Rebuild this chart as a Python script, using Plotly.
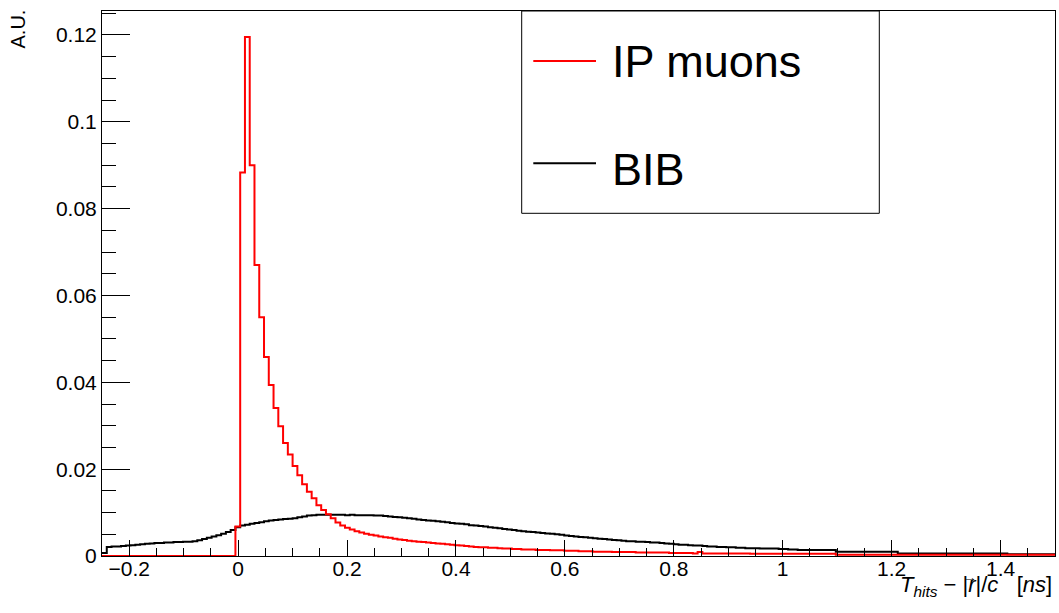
import numpy as np
import plotly.graph_objects as go

# Histogram binning: 200 uniform bins over the time-residual range [ns]
X_MIN, X_MAX, N_BINS = -0.25, 1.5, 200

# Normalised bin contents (A.U.), one value per bin
ip_muons = [
    0, 0, 0, 0, 0, 0, 0, 0, 0, 0,
    0, 0, 0, 0, 0, 0, 0, 0, 0, 0,
    0, 0, 0, 0, 0, 0, 0, 0, 0.0068, 0.0883,
    0.1195, 0.0900, 0.0670, 0.0550, 0.0458, 0.0394, 0.0341, 0.0299, 0.0260, 0.0234,
    0.0207, 0.0186, 0.0165, 0.0148, 0.0133, 0.0117, 0.0106, 0.0096, 0.0087, 0.0077,
    0.0070, 0.0065, 0.0061, 0.0057, 0.0054, 0.0051, 0.0049, 0.0047, 0.0045, 0.0043,
    0.0042, 0.0040, 0.0038, 0.0037, 0.0035, 0.0034, 0.0033, 0.0032, 0.0031, 0.0030,
    0.0029, 0.0028, 0.0027, 0.0026, 0.0025, 0.0024, 0.0023, 0.0022, 0.0021, 0.0020,
    0.0020, 0.0019, 0.0019, 0.0018, 0.0017, 0.0017, 0.0016, 0.0016, 0.0015, 0.0015,
    0.0015, 0.0014, 0.0014, 0.0014, 0.0013, 0.0013, 0.0013, 0.0012, 0.0012, 0.0012,
    0.0011, 0.0011, 0.0011, 0.0010, 0.0010, 0.0010, 0.0010, 0.0009, 0.0009, 0.0009,
    0.0009, 0.0009, 0.0008, 0.0008, 0.0008, 0.0008, 0.0008, 0.0008, 0.0008, 0.0007,
    0.0007, 0.0007, 0.0007, 0.0007, 0.0006, 0.0009, 0.0006, 0.0006, 0.0006, 0.0006,
    0.0006, 0.0006, 0.0006, 0.0006, 0.0006, 0.0006, 0.0005, 0.0005, 0.0005, 0.0005,
    0.0005, 0.0005, 0.0005, 0.0005, 0.0005, 0.0005, 0.0005, 0.0005, 0.0005, 0.0005,
    0.0005, 0.0005, 0.0005, 0.0005, 0.0003, 0.0003, 0.0003, 0.0003, 0.0003, 0.0003,
    0.0003, 0.0003, 0.0003, 0.0003, 0.0003, 0.0003, 0.0003, 0.0003, 0.0003, 0.0003,
    0.0003, 0.0003, 0.0003, 0.0003, 0.0003, 0.0003, 0.0003, 0.0003, 0.0003, 0.0003,
    0.0003, 0.0003, 0.0003, 0.0003, 0.0003, 0.0003, 0.0003, 0.0003, 0.0003, 0.0003,
    0.0003, 0.0003, 0.0003, 0.0003, 0.0003, 0.0003, 0.0003, 0.0003, 0.0003, 0.0003,
]

bib = [
    0.0007, 0.0021, 0.0022, 0.0022, 0.0023, 0.0024, 0.0025, 0.0026, 0.0027, 0.0028,
    0.0029, 0.0030, 0.0030, 0.0031, 0.0031, 0.0032, 0.0032, 0.0033, 0.0033, 0.0034,
    0.0036, 0.0039, 0.0042, 0.0045, 0.0048, 0.0051, 0.0055, 0.0060, 0.0066, 0.0070,
    0.0072, 0.0074, 0.0076, 0.0078, 0.0080, 0.0082, 0.0083, 0.0084, 0.0085, 0.0086,
    0.0087, 0.0089, 0.0091, 0.0093, 0.0094, 0.0095, 0.0095, 0.0095, 0.0095, 0.0095,
    0.0095, 0.0094, 0.0095, 0.0094, 0.0094, 0.0094, 0.0094, 0.0093, 0.0093, 0.0092,
    0.0091, 0.0090, 0.0089, 0.0088, 0.0087, 0.0086, 0.0084, 0.0083, 0.0082, 0.0081,
    0.0080, 0.0079, 0.0078, 0.0076, 0.0075, 0.0074, 0.0073, 0.0071, 0.0070, 0.0069,
    0.0068, 0.0066, 0.0065, 0.0064, 0.0062, 0.0061, 0.0060, 0.0058, 0.0057, 0.0056,
    0.0055, 0.0054, 0.0053, 0.0052, 0.0051, 0.0050, 0.0049, 0.0047, 0.0046, 0.0045,
    0.0044, 0.0043, 0.0042, 0.0041, 0.0040, 0.0039, 0.0038, 0.0037, 0.0036, 0.0035,
    0.0034, 0.0034, 0.0033, 0.0033, 0.0032, 0.0031, 0.0031, 0.0030, 0.0029, 0.0028,
    0.0027, 0.0026, 0.0026, 0.0025, 0.0024, 0.0024, 0.0023, 0.0022, 0.0022, 0.0021,
    0.0021, 0.0020, 0.0020, 0.0019, 0.0019, 0.0018, 0.0018, 0.0018, 0.0017, 0.0017,
    0.0017, 0.0017, 0.0016, 0.0016, 0.0015, 0.0015, 0.0014, 0.0014, 0.0014, 0.0014,
    0.0014, 0.0014, 0.0014, 0.0014, 0.0010, 0.0010, 0.0010, 0.0010, 0.0010, 0.0010,
    0.0010, 0.0010, 0.0010, 0.0010, 0.0010, 0.0010, 0.0010, 0.0006, 0.0006, 0.0006,
    0.0006, 0.0006, 0.0006, 0.0006, 0.0006, 0.0006, 0.0006, 0.0006, 0.0006, 0.0006,
    0.0006, 0.0006, 0.0006, 0.0006, 0.0006, 0.0006, 0.0006, 0.0006, 0.0006, 0.0006,
    0.0004, 0.0004, 0.0004, 0.0004, 0.0004, 0.0004, 0.0004, 0.0004, 0.0004, 0.0004,
]

series_names = ["IP muons", "BIB"]
series_colors = ["#ff0000", "#000000"]
y_max = 0.1255

edges = np.linspace(X_MIN, X_MAX, N_BINS + 1)


def step_trace(values, color, name):
    # Step outline: each bin's content held from its low edge to its high edge
    y = list(values) + [values[-1]]
    return go.Scatter(x=edges, y=y, mode="lines", line_shape="hv",
                      line=dict(color=color, width=2), name=name,
                      showlegend=False, hoverinfo="skip")


FONT = "Liberation Sans, Arial, Helvetica, sans-serif"

fig = go.Figure()
fig.add_trace(step_trace(bib, series_colors[1], series_names[1]))
fig.add_trace(step_trace(ip_muons, series_colors[0], series_names[0]))

W, H = 1059, 613
L, R, T, B = 102, 4, 11, 57
pw, ph = W - L - R, H - T - B


def px(xp):
    return (xp - L) / pw


def py(yp):
    return (H - B - yp) / ph


fig.update_layout(
    width=W, height=H,
    margin=dict(l=L, r=R, t=T, b=B, pad=0),
    paper_bgcolor="white", plot_bgcolor="white",
    font=dict(family=FONT, size=21, color="black"),
    showlegend=False,
    xaxis=dict(range=[X_MIN, X_MAX], dtick=0.2, tick0=0, ticks="inside",
               ticklen=16, tickwidth=1, tickcolor="black", ticklabelstandoff=-6,
               showline=True, linecolor="black", linewidth=1, mirror=True,
               showgrid=False, zeroline=False,
               minor=dict(ticks="inside", ticklen=8, dtick=0.05, tick0=0,
                          tickcolor="black", tickwidth=1, showgrid=False)),
    yaxis=dict(range=[0, y_max], dtick=0.02, tick0=0, ticks="inside",
               ticklen=28, tickwidth=1, tickcolor="black",
               showline=True, linecolor="black", linewidth=1, mirror=True,
               showgrid=False, zeroline=False,
               minor=dict(ticks="inside", ticklen=14, dtick=0.005, tick0=0,
                          tickcolor="black", tickwidth=1, showgrid=False)),
)

# Legend box with line samples and labels
legend_y = [61, 163.3]
label_y = [61.7, 170]
shapes = [dict(type="rect", xref="paper", yref="paper",
               x0=px(521.7), x1=px(879.3), y0=py(213.3), y1=py(11),
               line=dict(color="black", width=1), fillcolor="white", layer="above")]
for name, color, ly, ty in zip(series_names, series_colors, legend_y, label_y):
    shapes.append(dict(type="line", xref="paper", yref="paper",
                       x0=px(533.3), x1=px(596), y0=py(ly), y1=py(ly),
                       line=dict(color=color, width=2), layer="above"))
    fig.add_annotation(text=name, xref="paper", yref="paper",
                       x=px(610), y=py(ty), xanchor="left", yanchor="middle",
                       showarrow=False, font=dict(family=FONT, size=45, color="black"))
fig.update_layout(shapes=shapes)

# Axis titles
fig.add_annotation(text="A.U.", xref="paper", yref="paper",
                   x=px(18), y=py(8), xanchor="center", yanchor="top",
                   textangle=-90, showarrow=False,
                   font=dict(family=FONT, size=20, color="black"))
NB = "\u00a0"
fig.add_annotation(text=f"<i>T</i><sub><i>hits</i></sub>{NB}\u2212{NB}|<i>r</i>|/<i>c</i>{NB*3}[<i>ns</i>]",
                   xref="paper", yref="paper",
                   x=px(1054), y=py(570), xanchor="right", yanchor="top",
                   showarrow=False,
                   font=dict(family=FONT, size=22, color="black"))
# vector arrow over the r
fig.add_annotation(text="\u2192", xref="paper", yref="paper",
                   x=px(970), y=py(577), xanchor="center", yanchor="middle",
                   showarrow=False,
                   font=dict(family=FONT, size=14, color="black"))

fig.write_html("out.html")
